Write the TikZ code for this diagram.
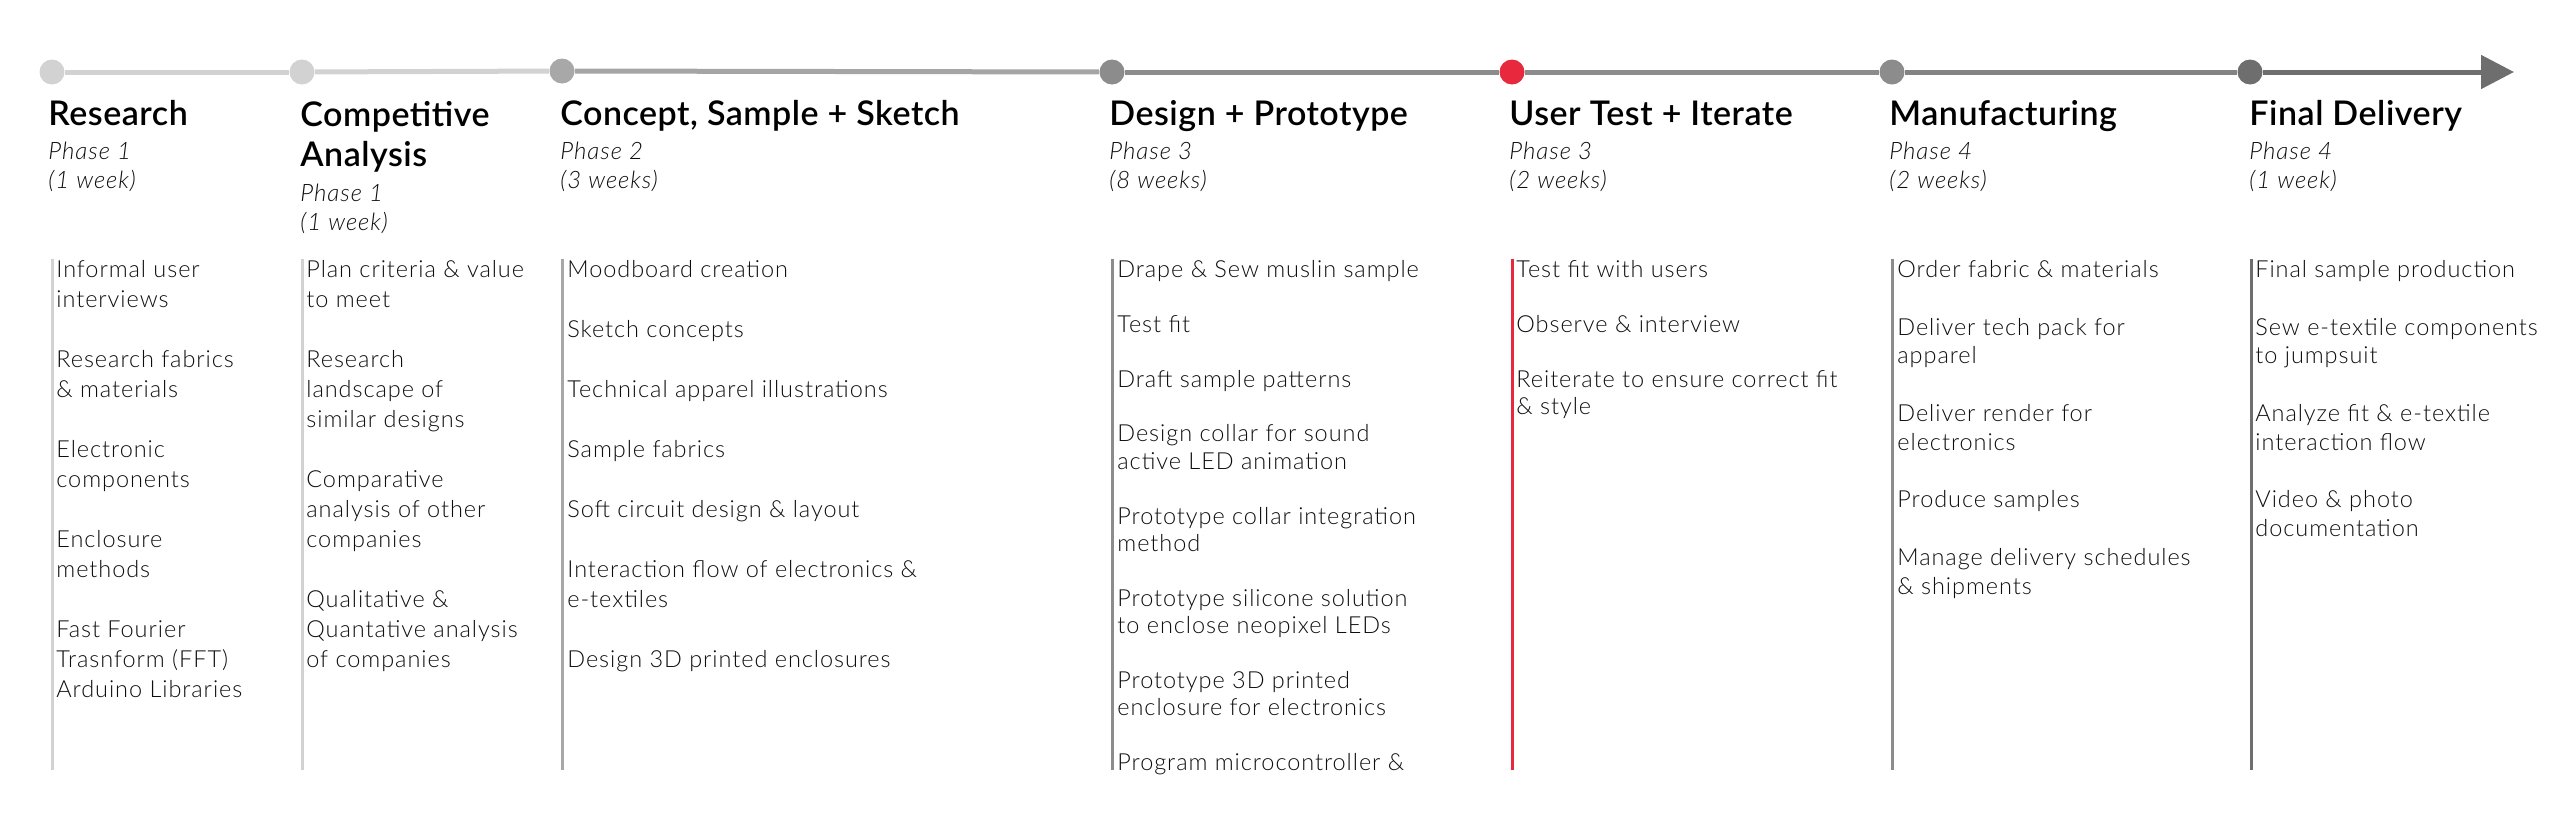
\documentclass[tikz,border=0pt]{standalone}
\usepackage{fontspec}
\setmainfont{Lato}
\newfontfamily\lightfont{Lato Light}[LetterSpace=4]
\newfontfamily\titlefont{Lato Semibold}[LetterSpace=1.5]
\usetikzlibrary{arrows.meta}

\definecolor{paleGrey}{HTML}{D2D2D2}
\definecolor{midGrey}{HTML}{A8A8A8}
\definecolor{stepGrey}{HTML}{8C8C8C}
\definecolor{darkGrey}{HTML}{6E6E6E}
\definecolor{testRed}{HTML}{E8283C}
\definecolor{inkGrey}{HTML}{0E0E0E}

\newcommand{\gap}{\\[\baselineskip]}

\tikzset{
  dot/.style={circle, fill=#1, draw=none, minimum size=12.5pt, inner sep=0pt},
  seg/.style={draw=#1, line width=2.5pt},
  rule/.style={draw=#1, line width=1.5pt},
  heading/.style={anchor=north west, inner sep=0pt, align=left,
    font=\titlefont\fontsize{17}{20}\selectfont,
    execute at begin node={\rule{0pt}{15pt}}},
  phase/.style={anchor=north west, inner sep=0pt, align=left, text=inkGrey,
    font=\lightfont\itshape\fontsize{12}{14.5}\selectfont,
    execute at begin node={\rule{0pt}{11pt}}},
  tasks/.style={anchor=north west, inner sep=0pt, align=left, text=inkGrey,
    font=\lightfont\fontsize{11.75}{#1}\selectfont,
    execute at begin node={\rule{0pt}{11pt}}},
}

\begin{document}
\begin{tikzpicture}[x=0.5pt,y=0.5pt,yscale=-1,xscale=1]
\useasboundingbox (0,0) rectangle (2560,831);

%Timeline dots
\node [dot=paleGrey] (d1) at (52,72) {};
\node [dot=paleGrey] (d2) at (302,72) {};
\node [dot=midGrey] (d3) at (562,71) {};
\node [dot=stepGrey] (d4) at (1112,72) {};
\node [dot=testRed] (d5) at (1512,72) {};
\node [dot=stepGrey] (d6) at (1892,72) {};
\node [dot=darkGrey] (d7) at (2250,72) {};
\coordinate (tip) at (2514,72);

%Timeline segments
\draw [seg=paleGrey] (d1) -- (d2);
\draw [seg=paleGrey] (d2) -- (d3);
\draw [seg=midGrey!90!stepGrey] (d3) -- (d4);
\draw [seg=stepGrey] (d4) -- (d5);
\draw [seg=stepGrey] (d5) -- (d6);
\draw [seg=stepGrey!70!darkGrey] (d6) -- (d7);
\draw [seg=darkGrey, -{Triangle[length=16.5pt,width=16.5pt]}] (d7) -- (tip);

%Column rules
\draw [rule=paleGrey] (52,259) -- (52,770);
\draw [rule=paleGrey] (302,259) -- (302,770);
\draw [rule=midGrey] (562,259) -- (562,770);
\draw [rule=stepGrey] (1112,259) -- (1112,770);
\draw [rule=testRed] (1512,259) -- (1512,770);
\draw [rule=stepGrey] (1892,259) -- (1892,770);
\draw [rule=darkGrey] (2251,259) -- (2251,770);

%Headings (first baseline at y=125)
\node [heading] (t1) at (48,95) {Research};
\node [heading] (t2) at (300,101) {Competitive\\Analysis};
\node [heading] (t3) at (560,95) {Concept, Sample + Sketch};
\node [heading] (t4) at (1109,95) {Design + Prototype};
\node [heading] (t5) at (1509,95) {User Test + Iterate};
\node [heading] (t6) at (1889,95) {Manufacturing};
\node [heading] (t7) at (2249,95) {Final Delivery};

%Phases
\node [phase] (p1) at (48,142) {Phase 1\\(1 week)};
\node [phase] (p2) at (300,184) {Phase 1\\(1 week)};
\node [phase] (p3) at (560,142) {Phase 2\\(3 weeks)};
\node [phase] (p4) at (1109,142) {Phase 3\\(8 weeks)};
\node [phase] (p5) at (1509,142) {Phase 3\\(2 weeks)};
\node [phase] (p6) at (1889,142) {Phase 4\\(2 weeks)};
\node [phase] (p7) at (2249,142) {Phase 4\\(1 week)};

%Task lists
\node [tasks=15] (l1) at (56,260) {Informal user\\interviews\gap Research fabrics\\\& materials\gap Electronic\\components\gap Enclosure\\methods\gap Fast Fourier\\Trasnform (FFT)\\Arduino Libraries};
\node [tasks=15] (l2) at (306,260) {Plan criteria \& value\\to meet\gap Research\\landscape of\\similar designs\gap Comparative\\analysis of other\\companies\gap Qualitative \&\\Quantative analysis\\of companies};
\node [tasks=15] (l3) at (567,260) {Moodboard creation\gap Sketch concepts\gap Technical apparel illustrations\gap Sample fabrics\gap Soft circuit design \& layout\gap Interaction flow of electronics \&\\e-textiles\gap Design 3D printed enclosures};
\node [tasks=13.7] (l4) at (1117,260) {Drape \& Sew muslin sample\gap Test fit\gap Draft sample patterns\gap Design collar for sound\\active LED animation\gap Prototype collar integration\\method\gap Prototype silicone solution\\to enclose neopixel LEDs\gap Prototype 3D printed\\enclosure for electronics\gap Program microcontroller \&};
\node [tasks=13.7] (l5) at (1516,260) {Test fit with users\gap Observe \& interview\gap Reiterate to ensure correct fit\\\& style};
\node [tasks=14.4] (l6) at (1897,260) {Order fabric \& materials\gap Deliver tech pack for\\apparel\gap Deliver render for\\electronics\gap Produce samples\gap Manage delivery schedules\\\& shipments};
\node [tasks=14.4] (l7) at (2255,260) {Final sample production\gap Sew e-textile components\\to jumpsuit\gap Analyze fit \& e-textile\\interaction flow\gap Video \& photo\\documentation};

\end{tikzpicture}
\end{document}
